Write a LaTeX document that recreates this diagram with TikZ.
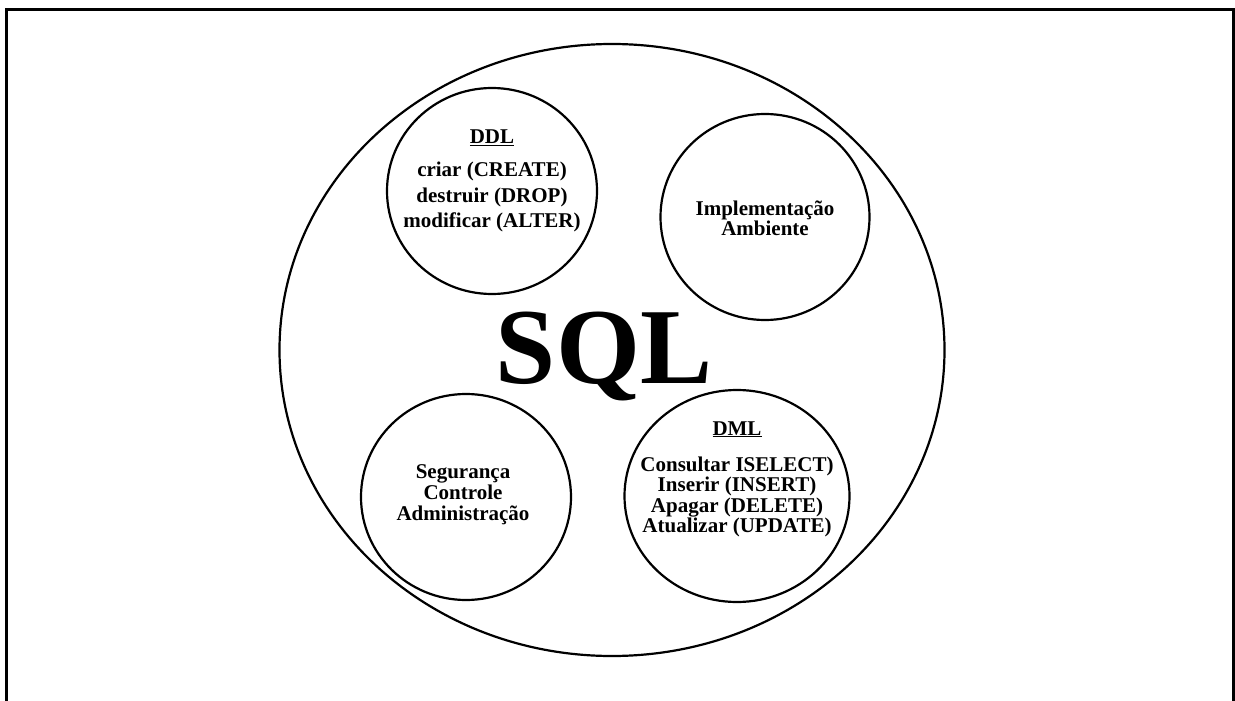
\documentclass[tikz,border=0pt]{standalone}
\usepackage{fontspec}
\setmainfont{Liberation Serif}
\usetikzlibrary{shapes.geometric}
\begin{document}
\begin{tikzpicture}[x=1pt,y=-1pt,
  bub/.style={draw, ellipse, line width=2.2pt, inner sep=0pt},
  txt/.style={align=center, inner sep=0pt, font=\bfseries\fontsize{21}{21}\selectfont},
  frame/.style={line width=3pt}]
\useasboundingbox (0,0) rectangle (1235,701);
\coordinate (fbl) at (6,701);
\coordinate (ftl) at (6,10);
\coordinate (ftr) at (1233,10);
\coordinate (fbr) at (1233,701);
\draw[frame] (fbl) -- (ftl) -- (ftr) -- (fbr);
\node[bub, minimum width=665pt, minimum height=612pt] (big) at (612,350) {};
\node[bub, minimum width=210pt, minimum height=206pt] (ddl) at (492,191) {};
\node[bub, minimum width=209pt, minimum height=206pt] (impl) at (765,217) {};
\node[bub, minimum width=210pt, minimum height=206pt] (seg) at (466,497) {};
\node[bub, minimum width=225pt, minimum height=212pt] (dml) at (737,496) {};
\node[inner sep=0pt, anchor=base, font=\bfseries\fontsize{108}{108}\selectfont] (sql) at (604,383) {SQL};
\node[txt, font=\bfseries\fontsize{21}{25.5}\selectfont] (ddlt) at (492,181)
  {\underline{DDL}\\[7.5pt] criar (CREATE)\\ destruir (DROP)\\ modificar (ALTER)};
\node[txt, font=\bfseries\fontsize{21}{20}\selectfont] (implt) at (765,218)
  {Implementação\\ Ambiente};
\node[txt] (segt) at (463,495)
  {Segurança\\ Controle\\ Administração};
\node[txt, font=\bfseries\fontsize{21}{18.9}\selectfont] (dmlt) at (737,479)
  {\underline{DML}\\[18pt] Consultar ISELECT)\\ Inserir (INSERT)\\ Apagar (DELETE)\\ Atualizar (UPDATE)};
\end{tikzpicture}
\end{document}
